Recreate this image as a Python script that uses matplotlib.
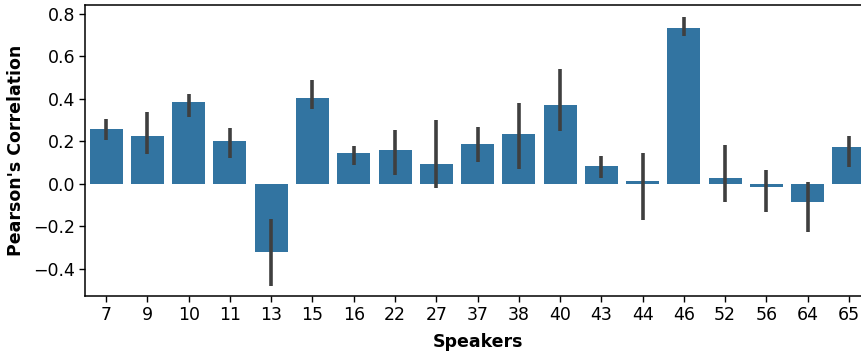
import numpy as np
import matplotlib
matplotlib.use("Agg")
import matplotlib.pyplot as plt

speakers = ["7", "9", "10", "11", "13", "15", "16", "22", "27", "37",
            "38", "40", "43", "44", "46", "52", "56", "64", "65"]
corr = [0.259, 0.226, 0.386, 0.202, -0.318, 0.405, 0.147, 0.160, 0.094, 0.188,
        0.235, 0.372, 0.085, 0.014, 0.734, 0.028, -0.013, -0.083, 0.174]
ci_low = [0.207, 0.140, 0.317, 0.124, -0.478, 0.351, 0.091, 0.044, -0.019, 0.104,
          0.071, 0.251, 0.030, -0.168, 0.698, -0.083, -0.132, -0.227, 0.081]
ci_high = [0.306, 0.340, 0.425, 0.262, -0.166, 0.490, 0.177, 0.254, 0.301, 0.268,
           0.383, 0.543, 0.130, 0.147, 0.787, 0.185, 0.067, 0.008, 0.224]

fig = plt.figure(figsize=(8.61, 3.54), dpi=100)
ax = fig.add_axes([0.0993, 0.164, 0.9107, 0.822])

x = np.arange(len(speakers))
ax.bar(x, corr, width=0.8, color="#3274a1")
ax.vlines(x, ci_low, ci_high, color="#3f3f3f", lw=2.6)

ax.set_xlim(-0.5, len(speakers) - 0.5)
ax.set_ylim(-0.527, 0.842)
ax.set_xticks(x)
ax.set_xticklabels(speakers)
ax.set_yticks([-0.4, -0.2, 0.0, 0.2, 0.4, 0.6, 0.8])
ax.tick_params(labelsize=12.5, length=4, width=1.0)
for sp in ax.spines.values():
    sp.set_linewidth(1.1)
ax.set_xlabel("Speakers", fontsize=12.5, fontweight="bold", labelpad=6)
ax.set_ylabel("Pearson's Correlation", fontsize=12.5, fontweight="bold", labelpad=5.5)

fig.savefig("out.png", dpi=100)
